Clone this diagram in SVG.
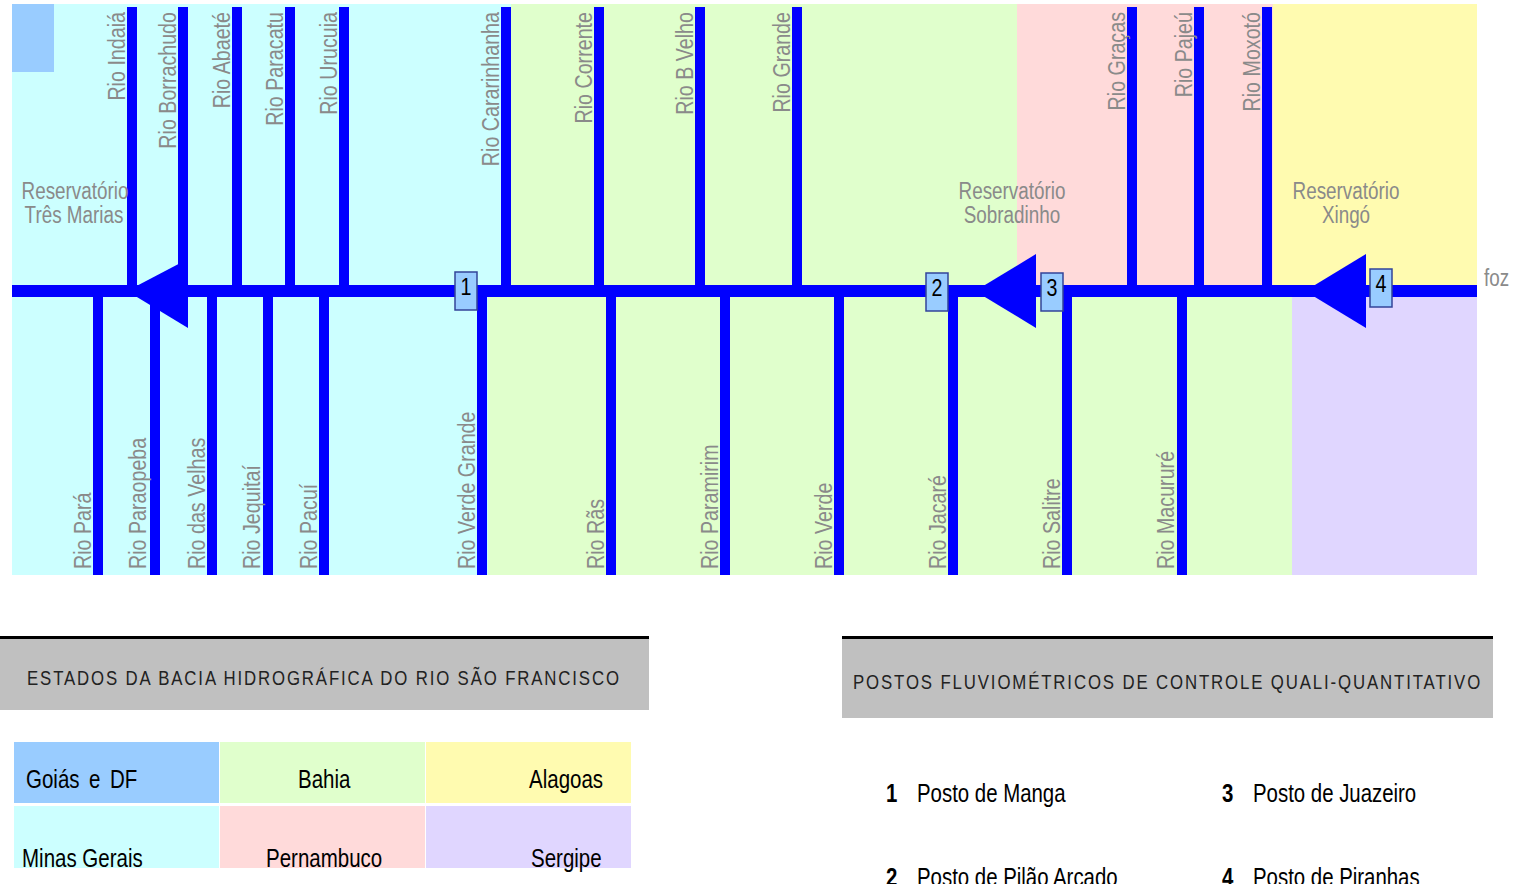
<svg xmlns="http://www.w3.org/2000/svg" width="1517" height="891" viewBox="0 0 1517 891">
<style>
.lbl{font-family:"Liberation Sans",Arial,sans-serif;font-size:24px;fill:#8a8a8a}
.res{font-family:"Liberation Sans",Arial,sans-serif;font-size:23px;fill:#8a8a8a}
.num{font-family:"Liberation Sans",Arial,sans-serif;font-size:24px;fill:#000}
.pst{font-family:"Liberation Sans",Arial,sans-serif;font-size:25.5px;fill:#000}
.leg{font-family:"Liberation Sans",Arial,sans-serif;font-size:25px;fill:#000}
.hdr{font-family:"Liberation Sans",Arial,sans-serif;font-size:21px;fill:#222}
.riv{fill:#0000ff}
.box{fill:#99ccff;stroke:#334499;stroke-width:1.5}
</style>
<defs>
<clipPath id="cut"><rect x="0" y="0" width="1517" height="884"/></clipPath>
</defs>
<rect width="1517" height="891" fill="#fff"/>
<g id="regions">
<rect x="12" y="4" width="499" height="287" fill="#ccffff"/>
<rect x="12" y="291" width="476" height="284" fill="#ccffff"/>
<rect x="511" y="4" width="506" height="287" fill="#e0ffcc"/>
<rect x="488" y="291" width="804" height="284" fill="#e0ffcc"/>
<rect x="1017" y="4" width="256" height="287" fill="#ffdada"/>
<rect x="1273" y="4" width="204" height="287" fill="#fffbb0"/>
<rect x="1292" y="291" width="185" height="284" fill="#e0d6ff"/>
<rect x="12" y="4" width="42" height="68" fill="#99ccff"/>
</g>
<g id="connectors">
<rect class="riv" x="12" y="285" width="1465" height="12"/>
<rect class="riv" x="127" y="7" width="10" height="280"/>
<rect class="riv" x="178" y="7" width="10" height="280"/>
<rect class="riv" x="232" y="7" width="10" height="280"/>
<rect class="riv" x="285" y="7" width="10" height="280"/>
<rect class="riv" x="339" y="7" width="10" height="280"/>
<rect class="riv" x="501" y="7" width="10" height="280"/>
<rect class="riv" x="594" y="7" width="10" height="280"/>
<rect class="riv" x="695" y="7" width="10" height="280"/>
<rect class="riv" x="792" y="7" width="10" height="280"/>
<rect class="riv" x="1127" y="7" width="10" height="280"/>
<rect class="riv" x="1194" y="7" width="10" height="280"/>
<rect class="riv" x="1262" y="7" width="10" height="280"/>
<rect class="riv" x="93" y="295" width="10" height="280"/>
<rect class="riv" x="150" y="295" width="10" height="280"/>
<rect class="riv" x="207" y="295" width="10" height="280"/>
<rect class="riv" x="263" y="295" width="10" height="280"/>
<rect class="riv" x="319" y="295" width="10" height="280"/>
<rect class="riv" x="477" y="295" width="10" height="280"/>
<rect class="riv" x="606" y="295" width="10" height="280"/>
<rect class="riv" x="720" y="295" width="10" height="280"/>
<rect class="riv" x="834" y="295" width="10" height="280"/>
<rect class="riv" x="948" y="295" width="10" height="280"/>
<rect class="riv" x="1062" y="295" width="10" height="280"/>
<rect class="riv" x="1177" y="295" width="10" height="280"/>
</g>
<g id="labels-top">
<text class="lbl" text-anchor="end" transform="translate(125,12) rotate(-90) scale(0.82,1)">Rio Indaiá</text>
<text class="lbl" text-anchor="end" transform="translate(176,12) rotate(-90) scale(0.82,1)">Rio Borrachudo</text>
<text class="lbl" text-anchor="end" transform="translate(230,12) rotate(-90) scale(0.82,1)">Rio Abaeté</text>
<text class="lbl" text-anchor="end" transform="translate(283,12) rotate(-90) scale(0.82,1)">Rio Paracatu</text>
<text class="lbl" text-anchor="end" transform="translate(337,12) rotate(-90) scale(0.82,1)">Rio Urucuia</text>
<text class="lbl" text-anchor="end" transform="translate(499,12) rotate(-90) scale(0.82,1)">Rio Cararinhanha</text>
<text class="lbl" text-anchor="end" transform="translate(592,12) rotate(-90) scale(0.82,1)">Rio Corrente</text>
<text class="lbl" text-anchor="end" transform="translate(693,12) rotate(-90) scale(0.82,1)">Rio B Velho</text>
<text class="lbl" text-anchor="end" transform="translate(790,12) rotate(-90) scale(0.82,1)">Rio Grande</text>
<text class="lbl" text-anchor="end" transform="translate(1125,12) rotate(-90) scale(0.82,1)">Rio Graças</text>
<text class="lbl" text-anchor="end" transform="translate(1192,12) rotate(-90) scale(0.82,1)">Rio Pajeú</text>
<text class="lbl" text-anchor="end" transform="translate(1260,12) rotate(-90) scale(0.82,1)">Rio Moxotó</text>
</g>
<g id="labels-bottom">
<text class="lbl" transform="translate(91,569) rotate(-90) scale(0.82,1)">Rio Pará</text>
<text class="lbl" transform="translate(146,569) rotate(-90) scale(0.82,1)">Rio Paraopeba</text>
<text class="lbl" transform="translate(205,569) rotate(-90) scale(0.82,1)">Rio das Velhas</text>
<text class="lbl" transform="translate(260,569) rotate(-90) scale(0.82,1)">Rio Jequitaí</text>
<text class="lbl" transform="translate(317,569) rotate(-90) scale(0.82,1)">Rio Pacuí</text>
<text class="lbl" transform="translate(475,569) rotate(-90) scale(0.82,1)">Rio Verde Grande</text>
<text class="lbl" transform="translate(604,569) rotate(-90) scale(0.82,1)">Rio Rãs</text>
<text class="lbl" transform="translate(718,569) rotate(-90) scale(0.82,1)">Rio Paramirim</text>
<text class="lbl" transform="translate(832,569) rotate(-90) scale(0.82,1)">Rio Verde</text>
<text class="lbl" transform="translate(946,569) rotate(-90) scale(0.82,1)">Rio Jacaré</text>
<text class="lbl" transform="translate(1060,569) rotate(-90) scale(0.82,1)">Rio Salitre</text>
<text class="lbl" transform="translate(1174,569) rotate(-90) scale(0.82,1)">Rio Macururé</text>
</g>
<g id="reservatorio-tres-marias">
<polygon class="riv" points="127,291 188,259 188,328"/>
<text class="res" text-anchor="middle" transform="translate(75,199) scale(0.82,1)">Reservatório</text>
<text class="res" text-anchor="middle" transform="translate(74,223) scale(0.82,1)">Três Marias</text>
</g>
<g id="reservatorio-sobradinho">
<polygon class="riv" points="975,291 1036,254 1036,328"/>
<text class="res" text-anchor="middle" transform="translate(1012,199) scale(0.82,1)">Reservatório</text>
<text class="res" text-anchor="middle" transform="translate(1012,223) scale(0.82,1)">Sobradinho</text>
</g>
<g id="reservatorio-xingo">
<polygon class="riv" points="1305,291 1366,254 1366,328"/>
<text class="res" text-anchor="middle" transform="translate(1346,199) scale(0.82,1)">Reservatório</text>
<text class="res" text-anchor="middle" transform="translate(1346,223) scale(0.82,1)">Xingó</text>
</g>
<g id="foz">
<text class="res" transform="translate(1484,286) scale(0.82,1)">foz</text>
</g>
<g id="posto-1">
<rect class="box" x="455" y="272" width="22" height="38"/>
<text class="num" text-anchor="middle" transform="translate(466,295) scale(0.82,1)">1</text>
</g>
<g id="posto-2">
<rect class="box" x="926" y="273" width="22" height="38"/>
<text class="num" text-anchor="middle" transform="translate(937,296) scale(0.82,1)">2</text>
</g>
<g id="posto-3">
<rect class="box" x="1041" y="273" width="22" height="38"/>
<text class="num" text-anchor="middle" transform="translate(1052,296) scale(0.82,1)">3</text>
</g>
<g id="posto-4">
<rect class="box" x="1370" y="269" width="22" height="38"/>
<text class="num" text-anchor="middle" transform="translate(1381,292) scale(0.82,1)">4</text>
</g>
<g id="legenda-estados">
<rect x="0" y="636" width="649" height="3" fill="#000"/>
<rect x="0" y="639" width="649" height="71" fill="#c0c0c0"/>
<text class="hdr" transform="translate(27,685) scale(0.8,1)" textLength="740" lengthAdjust="spacing">ESTADOS DA BACIA HIDROGRÁFICA DO RIO SÃO FRANCISCO</text>
<rect x="14" y="742" width="205" height="61" fill="#99ccff"/>
<rect x="220" y="742" width="205" height="61" fill="#e0ffcc"/>
<rect x="426" y="742" width="205" height="61" fill="#fffbb0"/>
<rect x="14" y="806" width="205" height="62" fill="#ccffff"/>
<rect x="220" y="806" width="205" height="62" fill="#ffdada"/>
<rect x="426" y="806" width="205" height="62" fill="#e0d6ff"/>
<text class="leg" transform="translate(26,788) scale(0.82,1)">Goiás</text>
<text class="leg" font-size="17" transform="translate(89,788) scale(0.82,1)">e</text>
<text class="leg" transform="translate(110,788) scale(0.82,1)">DF</text>
<text class="leg" transform="translate(298,788) scale(0.82,1)">Bahia</text>
<text class="leg" transform="translate(529,788) scale(0.82,1)">Alagoas</text>
<text class="leg" transform="translate(22,867) scale(0.82,1)">Minas Gerais</text>
<text class="leg" transform="translate(266,867) scale(0.82,1)">Pernambuco</text>
<text class="leg" transform="translate(531,867) scale(0.82,1)">Sergipe</text>
</g>
<g id="legenda-postos">
<rect x="842" y="636" width="651" height="3" fill="#000"/>
<rect x="842" y="639" width="651" height="79" fill="#c0c0c0"/>
<text class="hdr" transform="translate(853,689) scale(0.8,1)" textLength="784" lengthAdjust="spacing">POSTOS FLUVIOMÉTRICOS DE CONTROLE QUALI-QUANTITATIVO</text>
<g clip-path="url(#cut)">
<text class="pst" font-weight="bold" transform="translate(886,802) scale(0.8,1)">1</text>
<text class="pst" transform="translate(917,802) scale(0.8,1)">Posto de Manga</text>
<text class="pst" font-weight="bold" transform="translate(1222,802) scale(0.8,1)">3</text>
<text class="pst" transform="translate(1253,802) scale(0.8,1)">Posto de Juazeiro</text>
<text class="pst" font-weight="bold" transform="translate(886,886) scale(0.8,1)">2</text>
<text class="pst" transform="translate(917,886) scale(0.8,1)">Posto de Pilão Arcado</text>
<text class="pst" font-weight="bold" transform="translate(1222,886) scale(0.8,1)">4</text>
<text class="pst" transform="translate(1253,886) scale(0.8,1)">Posto de Piranhas</text>
</g>
</g>
</svg>
